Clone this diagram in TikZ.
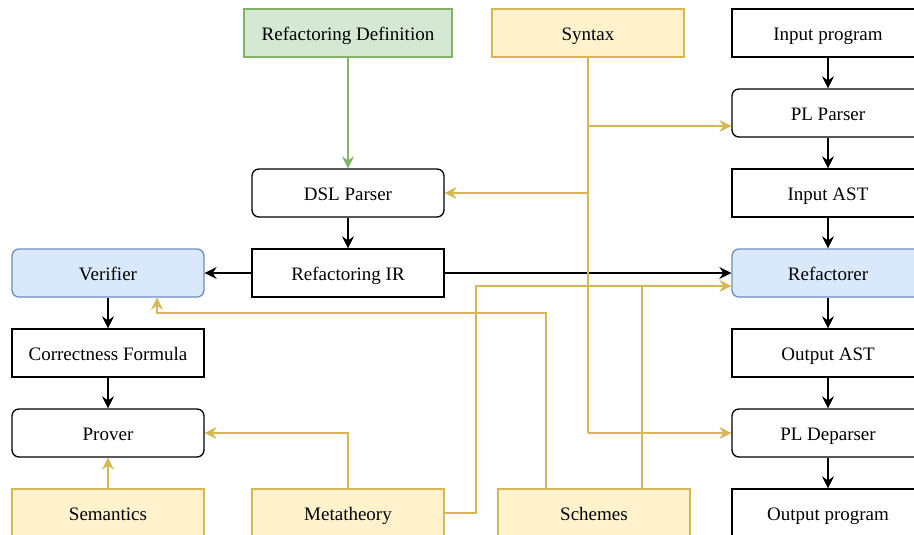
\documentclass[tikz,border=0pt]{standalone}
\usepackage{fontspec}
\setmainfont{Liberation Serif}
\usetikzlibrary{arrows.meta}
\definecolor{ylwfill}{HTML}{FFF2CC}
\definecolor{ylwline}{HTML}{D6B656}
\definecolor{grnfill}{HTML}{D5E8D4}
\definecolor{grnline}{HTML}{82B366}
\definecolor{bluefill}{HTML}{DAE8FC}
\definecolor{blueline}{HTML}{6C8EBF}
\begin{document}
\begin{tikzpicture}[x=1pt,y=-1pt,
  box/.style={draw=black,line width=1.3pt,minimum width=192pt,minimum height=48pt,inner sep=0pt,font=\fontsize{19}{21}\selectfont,text height=18pt,text depth=3.5pt,anchor=center},
  rbox/.style={box,rounded corners=7pt},
  yel/.style={box,draw=ylwline,fill=ylwfill},
  grn/.style={box,draw=grnline,fill=grnfill},
  blu/.style={rbox,draw=blueline,fill=bluefill},
  tip/.style={-{Stealth[length=12pt,width=12pt,inset=4pt]}},
  blk/.style={draw=black,line width=1.3pt,tip},
  yarr/.style={draw=ylwline,line width=1.3pt,tip},
  yln/.style={draw=ylwline,line width=1.3pt},
  garr/.style={draw=grnline,line width=1.3pt,tip}
]
\useasboundingbox (0,0) rectangle (914,535);
% top
\node[grn,minimum width=208pt] (def) at (348,33) {Refactoring Definition};
\node[yel] (syn) at (588,33) {Syntax};
% middle
\node[rbox] (dsl) at (348,193) {DSL Parser};
\node[box] (ir) at (348,273) {Refactoring IR};
% left
\node[blu] (ver) at (108,273) {Verifier};
\node[box] (cf) at (108,353) {Correctness Formula};
\node[rbox] (prov) at (108,433) {Prover};
\node[yel] (sem) at (108,513) {Semantics};
\node[yel] (meta) at (348,513) {Metatheory};
\node[yel] (sch) at (594,513) {Schemes};
% right
\node[box] (inp) at (828,33) {Input program};
\node[rbox] (plp) at (828,113) {PL Parser};
\node[box] (iast) at (828,193) {Input AST};
\node[blu] (ref) at (828,273) {Refactorer};
\node[box] (oast) at (828,353) {Output AST};
\node[rbox] (pld) at (828,433) {PL Deparser};
\node[box] (outp) at (828,513) {Output program};
% black arrows
\draw[blk] (inp) -- (plp);
\draw[blk] (plp) -- (iast);
\draw[blk] (iast) -- (ref);
\draw[blk] (ref) -- (oast);
\draw[blk] (oast) -- (pld);
\draw[blk] (pld) -- (outp);
\draw[blk] (dsl) -- (ir);
\draw[blk] (ir) -- (ver);
\draw[blk] (ir) -- (ref);
\draw[blk] (ver) -- (cf);
\draw[blk] (cf) -- (prov);
% green
\draw[garr] (def) -- (dsl);
% syntax
\coordinate (s1) at (588,126);
\coordinate (s2) at (588,193);
\coordinate (s3) at (588,433);
\draw[yln] (syn.south) -- (s3);
\draw[yarr] (s3) -- (pld.west);
\draw[yarr] (s1) -- (plp.west |- s1);
\draw[yarr] (s2) -- (dsl.east);
% metatheory
\coordinate (m1) at (476,513);
\coordinate (m2) at (476,286);
\draw[yarr] (meta.east) -- (m1) -- (m2) -- (ref.west |- m2);
\draw[yarr] (meta.north) |- (prov.east);
% schemes
\coordinate (c1) at (546,313);
\coordinate (c2) at (157,313);
\draw[yarr] (sch.north -| c1) -- (c1) -- (c2) -- (ver.south -| c2);
\draw[yln] (sch.north -| 642,0) -- (642,286);
% semantics
\draw[yarr] (sem) -- (prov);
\end{tikzpicture}
\end{document}
